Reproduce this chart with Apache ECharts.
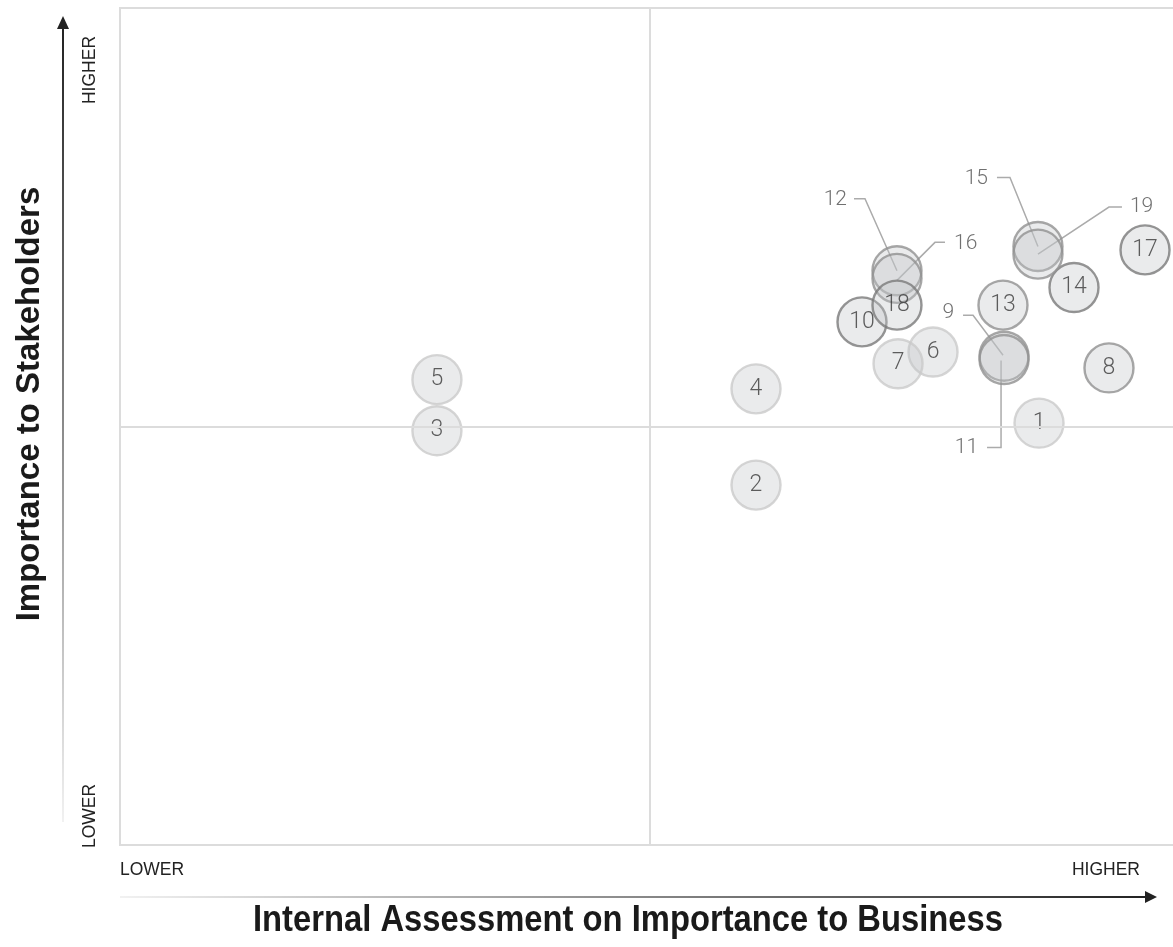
<!DOCTYPE html>
<html>
<head>
<meta charset="utf-8">
<script src="https://cdn.jsdelivr.net/npm/echarts@6/dist/echarts.min.js"></script>
<style>
html,body{margin:0;padding:0;background:#fff;overflow:hidden;}
#chart{width:1182px;height:947px;}
</style>
</head>
<body>
<div id="chart"></div>
<script>
// ---- data (0-100 scales) ----
var topics = ['1','2','3','4','5','6','7','8','9','10','11','12','13','14','15','16','17','18','19'];
var businessScore = [86.7, 60.0, 29.9, 60.0, 29.9, 76.7, 73.4, 93.3, 83.4, 70.0, 83.4, 73.3, 83.3, 90.0, 86.6, 73.3, 96.7, 73.3, 86.6];
var stakeholderScore = [50.4, 43.0, 49.5, 54.5, 55.6, 58.9, 57.5, 57.0, 58.4, 62.5, 58.0, 68.6, 64.5, 66.6, 71.5, 67.7, 71.1, 64.5, 70.6];
var xTickLabels = ['LOWER', 'HIGHER'];
var yTickLabels = ['LOWER', 'HIGHER'];
var xTitle = 'Internal Assessment on Importance to Business';
var yTitle = 'Importance to Stakeholders';

// ---- presentation ----
var tone = {light: '#cbcbcb', mid: '#919191', dark: '#7a7a7a'};
var topicTone = {'1':'light','2':'light','3':'light','4':'light','5':'light','6':'light','7':'light',
  '8':'mid','9':'mid','11':'mid','12':'mid','13':'mid','15':'mid','16':'mid','19':'mid',
  '10':'dark','14':'dark','17':'dark','18':'dark'};
// callouts: label text drawn away from bubble with a leader line (pixel offsets)
var callouts = {
  '12': {pts: [[-43,-72],[-32,-72],[0,0]], tx: -50, ty: -71, align: 'right'},
  '16': {pts: [[48,-36],[38,-36],[0,2]], tx: 57, ty: -35, align: 'left'},
  '9':  {pts: [[-41,-41],[-31,-41],[-1,-1]], tx: -50, ty: -43, align: 'right'},
  '11': {pts: [[-3,1],[-3,88],[-17,88]], tx: -26, ty: 88, align: 'right'},
  '15': {pts: [[-41,-69],[-28,-69],[0,0]], tx: -50, ty: -68, align: 'right'},
  '19': {pts: [[84,-47],[71,-47],[0,0]], tx: 92, ty: -47, align: 'left'}
};

var numFont = 'Roboto, "Liberation Sans", sans-serif';

var scatterData = topics.map(function (t, i) {
  var isCallout = !!callouts[t];
  return {
    name: t,
    value: [businessScore[i], stakeholderScore[i]],
    itemStyle: {borderColor: tone[topicTone[t]]},
    label: {show: !isCallout}
  };
});
var calloutData = topics.map(function (t, i) {
  return callouts[t] ? [businessScore[i], stakeholderScore[i], i] : null;
}).filter(Boolean);

var chart = echarts.init(document.getElementById('chart'), null, {renderer: 'canvas'});
var option = {
  animation: false,
  grid: {left: 120, top: 8, width: 1060, height: 837, show: true, borderColor: '#dcdcdc', borderWidth: 2, backgroundColor: 'transparent'},
  xAxis: {type: 'value', min: 0, max: 100, axisLine: {show: false}, axisTick: {show: false}, axisLabel: {show: false}, splitLine: {show: false}},
  yAxis: {type: 'value', min: 0, max: 100, axisLine: {show: false}, axisTick: {show: false}, axisLabel: {show: false}, splitLine: {show: false}},
  series: [
    {
      type: 'custom',
      z: 1,
      silent: true,
      data: calloutData,
      renderItem: function (params, api) {
        var c = api.coord([api.value(0), api.value(1)]);
        var t = topics[api.value(2)];
        var co = callouts[t];
        var pts = co.pts.map(function (p) { return [c[0] + p[0], c[1] + p[1]]; });
        return {
          type: 'group',
          children: [
            {type: 'polyline', shape: {points: pts}, style: {stroke: '#ababab', lineWidth: 1.5, fill: null}},
            {type: 'text', x: c[0] + co.tx, y: c[1] + co.ty,
             style: {text: t, fill: '#707070', font: '300 21px ' + numFont, align: co.align, verticalAlign: 'middle'}}
          ]
        };
      }
    },
    {
      type: 'scatter',
      z: 2,
      symbol: 'circle',
      symbolSize: 49,
      data: scatterData,
      itemStyle: {color: 'rgba(192,195,200,0.42)', borderWidth: 2.4},
      label: {show: true, position: 'inside', formatter: '{b}', color: '#383838', fontSize: 23, fontWeight: 300, fontFamily: numFont},
      markLine: {
        silent: true, symbol: 'none', label: {show: false},
        lineStyle: {color: '#dcdcdc', width: 2, type: 'solid'},
        data: [{xAxis: 50}, {yAxis: 50}]
      }
    }
  ],
  graphic: [
    {type: 'line', shape: {x1: 120, y1: 897, x2: 1147, y2: 897}, silent: true,
     style: {lineWidth: 2, stroke: new echarts.graphic.LinearGradient(0, 0, 1, 0, [{offset: 0, color: '#f2f2f2'}, {offset: 1, color: '#222'}])}},
    {type: 'polygon', shape: {points: [[1145, 891], [1157, 897], [1145, 903]]}, style: {fill: '#222'}, silent: true},
    {type: 'line', shape: {x1: 63, y1: 822, x2: 63, y2: 27}, silent: true,
     style: {lineWidth: 2, stroke: new echarts.graphic.LinearGradient(0, 1, 0, 0, [{offset: 0, color: '#f2f2f2'}, {offset: 1, color: '#222'}])}},
    {type: 'polygon', shape: {points: [[57, 29], [63, 16], [69, 29]]}, style: {fill: '#222'}, silent: true},
    {type: 'text', x: 120, y: 870, style: {text: xTickLabels[0], font: '17.5px "Liberation Sans", sans-serif', fill: '#222', align: 'left', verticalAlign: 'middle'}},
    {type: 'text', x: 1140, y: 870, style: {text: xTickLabels[1], font: '17.5px "Liberation Sans", sans-serif', fill: '#222', align: 'right', verticalAlign: 'middle'}},
    {type: 'text', x: 90, y: 816, rotation: Math.PI / 2, style: {text: yTickLabels[0], font: '17.5px "Liberation Sans", sans-serif', fill: '#222', align: 'center', verticalAlign: 'middle'}},
    {type: 'text', x: 90, y: 70, rotation: Math.PI / 2, style: {text: yTickLabels[1], font: '17.5px "Liberation Sans", sans-serif', fill: '#222', align: 'center', verticalAlign: 'middle'}},
    {type: 'text', x: 628, y: 921, scaleX: 0.91, style: {text: xTitle, font: 'bold 36px "Liberation Sans", sans-serif', fill: '#1a1a1a', align: 'center', verticalAlign: 'middle'}},
    {type: 'text', x: 30, y: 404, rotation: Math.PI / 2, style: {text: yTitle, font: 'bold 33px "Liberation Sans", sans-serif', fill: '#1a1a1a', align: 'center', verticalAlign: 'middle'}}
  ]
};
chart.setOption(option);
</script>
</body>
</html>
